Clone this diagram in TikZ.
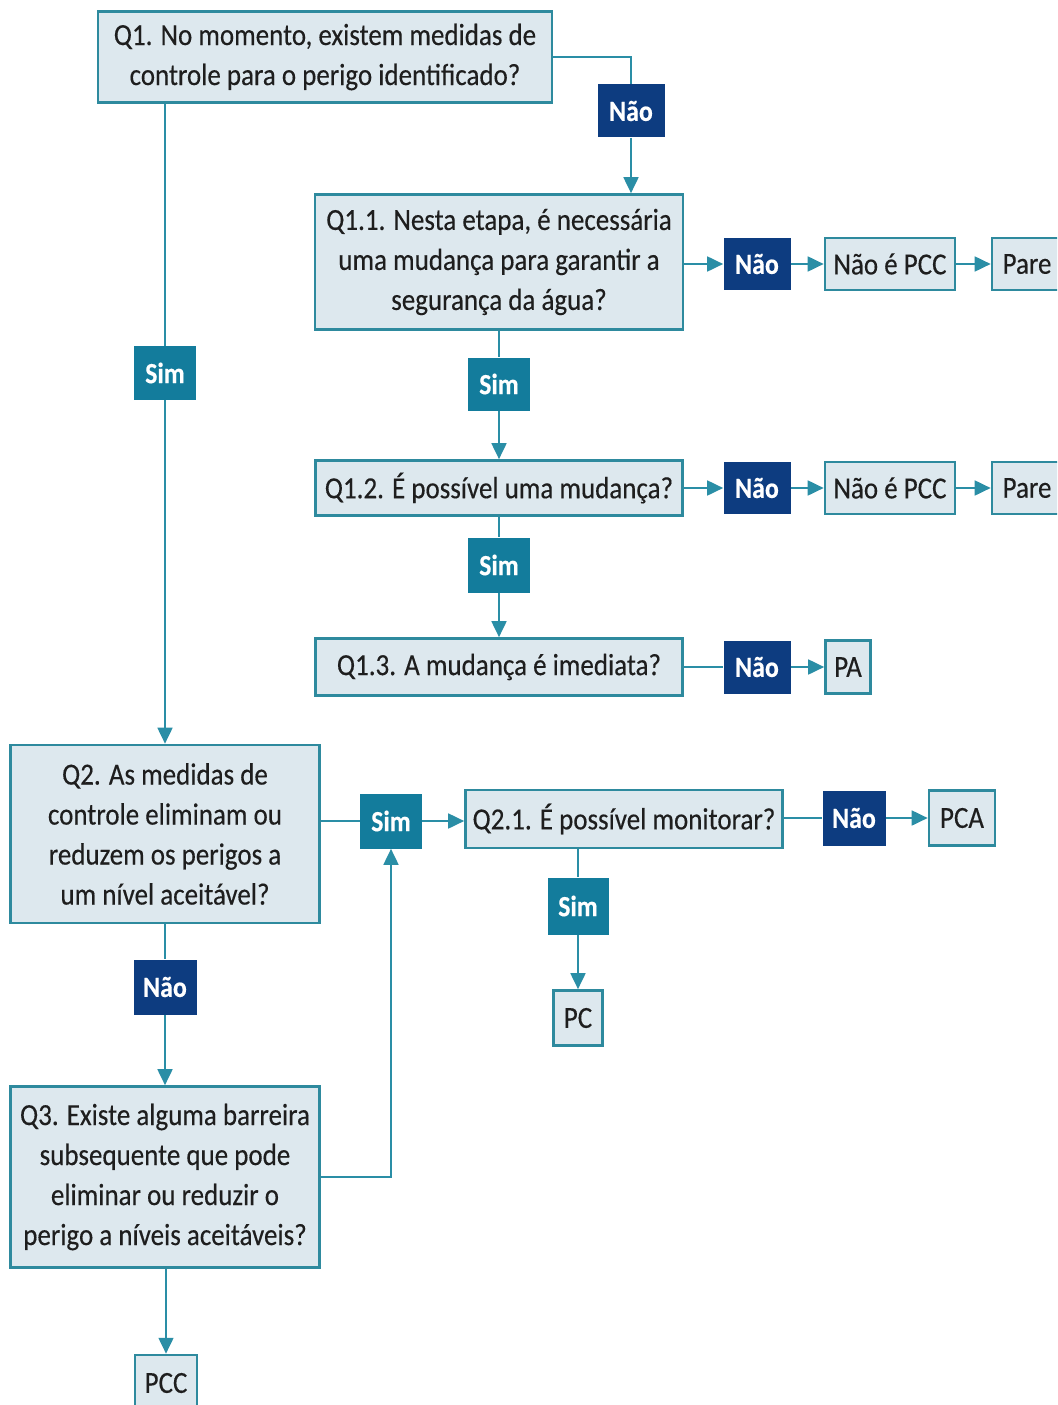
\documentclass[tikz,border=0pt]{standalone}
\usepackage{fontspec}
\setmainfont[FakeStretch=0.88,FakeBold=0.3]{Carlito}
\usetikzlibrary{arrows.meta}
\definecolor{boxfill}{HTML}{DDE8EE}
\definecolor{boxline}{HTML}{2E8A9E}
\definecolor{simfill}{HTML}{137C9C}
\definecolor{naofill}{HTML}{0D3C80}
\definecolor{linec}{HTML}{2A8EA6}
\definecolor{txt}{HTML}{1E1E1E}
\begin{document}
\begin{tikzpicture}[x=0.75pt,y=-0.75pt,
  sz/.style 2 args={minimum width=#1*0.75pt, minimum height=#2*0.75pt},
  qbox/.style={draw=boxline, line width=1.9pt, fill=boxfill, text=txt, align=center, inner sep=0pt, font=\fontsize{23}{30}\selectfont},
  simbox/.style={fill=simfill, text=white, inner sep=0pt, font=\bfseries\fontsize{22}{26}\selectfont},
  naobox/.style={fill=naofill, text=white, inner sep=0pt, font=\bfseries\fontsize{22}{26}\selectfont},
  conn/.style={draw=linec, line width=2pt},
  arr/.style={conn, -{Triangle[length=12pt,width=11pt]}}]
\useasboundingbox (0,0) rectangle (1057,1405);
\clip (0,0) rectangle (1057,1405);
\fill[white] (0,0) rectangle (1057,1405);

% nodes
\node[qbox, sz={454}{91}] (q1) at (325,57) {Q1. No momento, existem medidas de\\controle para o perigo identificado?};
\node[naobox, sz={67}{53}] (n1) at (631,111) {Não};
\node[qbox, sz={368}{135}] (q11) at (499,262) {Q1.1. Nesta etapa, é necessária\\uma mudança para garantir a\\segurança da água?};
\node[naobox, sz={67}{52}] (n2) at (757,264) {Não};
\node[qbox, sz={130}{52}] (npcc1) at (890,264) {Não é PCC};
\node[qbox, sz={70}{52}] (pare1) at (1027,264) {Pare};
\node[simbox, sz={62}{53}] (s2) at (499,384) {Sim};
\node[qbox, sz={367}{55}] (q12) at (499,488) {Q1.2. É possível uma mudança?};
\node[naobox, sz={67}{52}] (n3) at (757,488) {Não};
\node[qbox, sz={130}{52}] (npcc2) at (890,488) {Não é PCC};
\node[qbox, sz={70}{52}] (pare2) at (1027,488) {Pare};
\node[simbox, sz={62}{55}] (s3) at (499,565) {Sim};
\node[qbox, sz={367}{57}] (q13) at (499,667) {Q1.3. A mudança é imediata?};
\node[naobox, sz={67}{53}] (n4) at (757,667) {Não};
\node[qbox, sz={45}{53}] (pa) at (848,667) {PA};
\node[simbox, sz={62}{54}] (s1) at (165,373) {Sim};
\node[qbox, sz={309}{178}] (q2) at (165,834) {Q2. As medidas de\\controle eliminam ou\\reduzem os perigos a\\um nível aceitável?};
\node[simbox, sz={62}{55}] (s4) at (391,821) {Sim};
\node[qbox, sz={317}{58}] (q21) at (624,819) {Q2.1. É possível monitorar?};
\node[naobox, sz={63}{55}] (n5) at (854,818) {Não};
\node[qbox, sz={66}{55}] (pca) at (962,818) {PCA};
\node[simbox, sz={61}{57}] (s5) at (578,906) {Sim};
\node[qbox, sz={49}{55}] (pc) at (578,1018) {PC};
\node[naobox, sz={63}{55}] (n6) at (165,987) {Não};
\node[qbox, sz={309}{181}] (q3) at (165,1177) {Q3. Existe alguma barreira\\subsequente que pode\\eliminar ou reduzir o\\perigo a níveis aceitáveis?};
\node[qbox, sz={62}{56}] (pcc) at (166,1383) {PCC};

% connectors
\draw[conn] (q1.east) -| (n1.north);
\draw[arr] (n1.south) -- (n1.south |- q11.north);
\draw[conn] (q1.south -| s1.north) -- (s1.north);
\draw[arr] (s1.south) -- (s1.south |- q2.north);
\draw[arr] (q11.east |- n2.west) -- (n2.west);
\draw[arr] (n2.east) -- (npcc1.west);
\draw[arr] (npcc1.east) -- (pare1.west);
\draw[conn] (q11.south) -- (s2.north);
\draw[arr] (s2.south) -- (q12.north);
\draw[arr] (q12.east) -- (n3.west);
\draw[arr] (n3.east) -- (npcc2.west);
\draw[arr] (npcc2.east) -- (pare2.west);
\draw[conn] (q12.south) -- (s3.north);
\draw[arr] (s3.south) -- (q13.north);
\draw[conn] (q13.east) -- (n4.west);
\draw[arr] (n4.east) -- (pa.west);
\draw[conn] (q2.east |- s4.west) -- (s4.west);
\draw[arr] (s4.east) -- (s4.east -| q21.west);
\draw[conn] (q21.east |- n5.west) -- (n5.west);
\draw[arr] (n5.east) -- (pca.west);
\draw[conn] (s5.north |- q21.south) -- (s5.north);
\draw[arr] (s5.south) -- (pc.north);
\draw[conn] (q2.south) -- (n6.north);
\draw[arr] (n6.south) -- (q3.north);
\draw[arr] (q3.east) -| (s4.south);
\draw[arr] (q3.south -| pcc.north) -- (pcc.north);
\end{tikzpicture}
\end{document}
